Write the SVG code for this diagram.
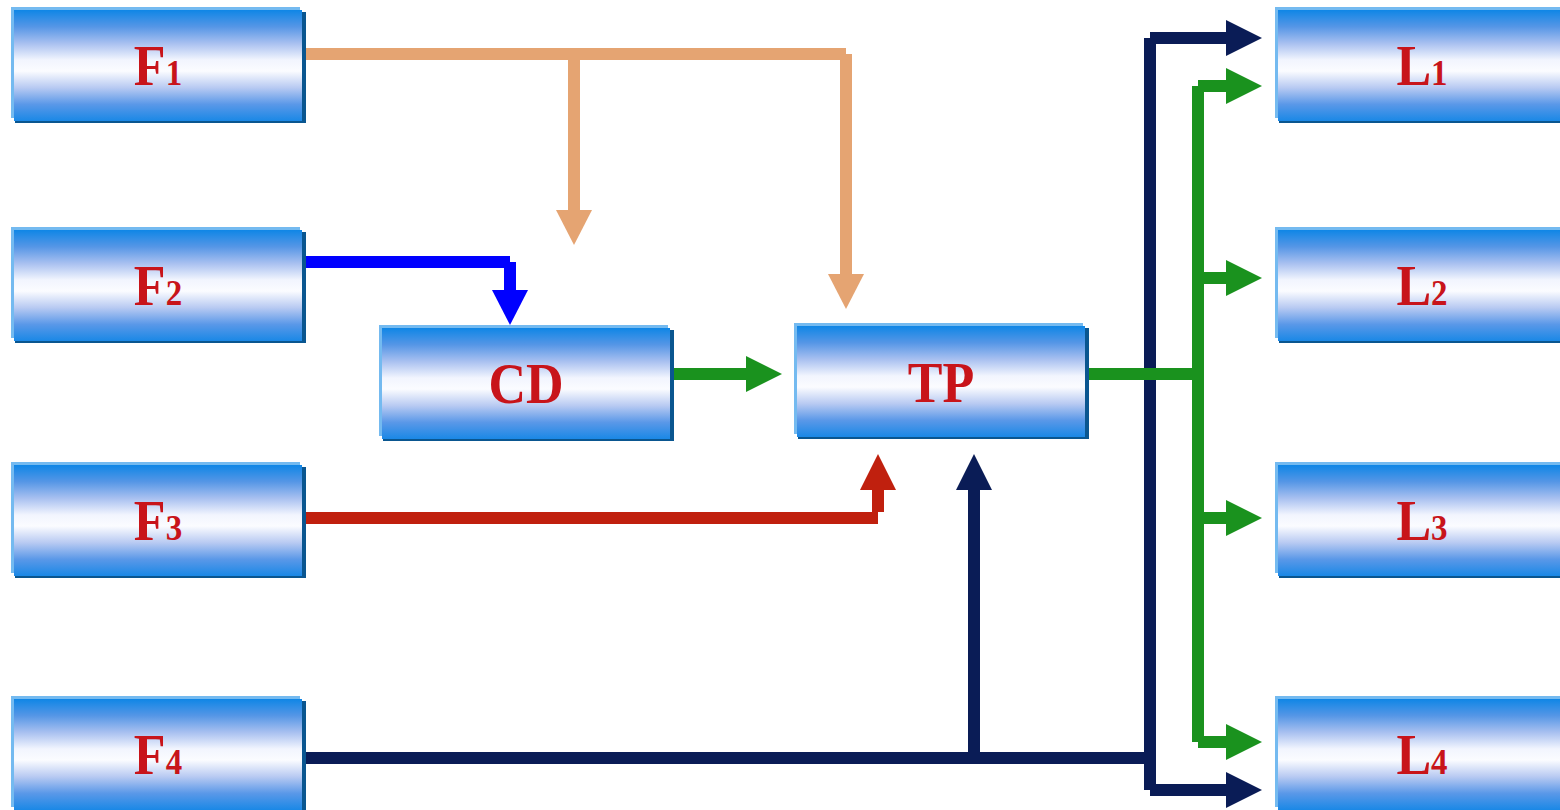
<svg xmlns="http://www.w3.org/2000/svg" xmlns:xlink="http://www.w3.org/1999/xlink" width="1560" height="810" viewBox="0 0 1560 810">
<style>
.sh{fill:#0a5690}
.lt{fill:#74baf0}
.gr{fill:url(#g)}
.lbl{font-family:"Liberation Serif","Times New Roman",serif;font-weight:bold;font-size:52px;fill:#c8141a;text-anchor:middle}
.sub{font-size:33px}
.c{fill:none;stroke-width:12;stroke-linecap:butt}
.pe{stroke:#e5a472}.peF{fill:#e5a472}
.bl{stroke:#0000ff}.blF{fill:#0000ff}
.gn{stroke:#1a921e}.gnF{fill:#1a921e}
.rd{stroke:#c0200e}.rdF{fill:#c0200e}
.nv{stroke:#0a1c56}.nvF{fill:#0a1c56}
</style>
<defs>
<linearGradient id="g" x1="0" y1="0" x2="0" y2="1">
<stop offset="0" stop-color="#0f86e6"/>
<stop offset="0.15" stop-color="#5596e6"/>
<stop offset="0.3" stop-color="#a8c0f0"/>
<stop offset="0.45" stop-color="#f2f5fe"/>
<stop offset="0.55" stop-color="#fbfcff"/>
<stop offset="0.7" stop-color="#b8caf2"/>
<stop offset="0.85" stop-color="#5a98e8"/>
<stop offset="1" stop-color="#1a88e6"/>
</linearGradient>
<g id="box">
<rect class="sh" x="4" y="5" width="291" height="111"/>
<rect class="lt" x="0" y="0" width="289" height="111"/>
<rect class="gr" x="3" y="3" width="288" height="111"/>
</g>
</defs>
<rect width="1560" height="810" fill="#ffffff"/>
<g id="connectors">
<!-- F1 peach -->
<line class="c pe" x1="302" y1="54" x2="846" y2="54"/>
<line class="c pe" x1="846" y1="54" x2="846" y2="275"/>
<polygon class="peF" points="828,274 864,274 846,309"/>
<line class="c pe" x1="574" y1="54" x2="574" y2="211"/>
<polygon class="peF" points="556,210 592,210 574,245"/>
<!-- F2 blue -->
<line class="c bl" x1="302" y1="262" x2="510" y2="262"/>
<line class="c bl" x1="510" y1="262" x2="510" y2="291"/>
<polygon class="blF" points="492,290 528,290 510,325"/>
<!-- CD -> TP green -->
<line class="c gn" x1="670" y1="374" x2="747" y2="374"/>
<polygon class="gnF" points="746,356 782,374 746,392"/>
<!-- F3 red -->
<line class="c rd" x1="302" y1="518" x2="878" y2="518"/>
<line class="c rd" x1="878" y1="512" x2="878" y2="489"/>
<polygon class="rdF" points="860,490 896,490 878,454"/>
<!-- F4 navy -->
<line class="c nv" x1="302" y1="758" x2="1150" y2="758"/>
<line class="c nv" x1="974" y1="752" x2="974" y2="489"/>
<polygon class="nvF" points="956,490 992,490 974,454"/>
<line class="c nv" x1="1150" y1="38" x2="1150" y2="790"/>
<line class="c nv" x1="1150" y1="38" x2="1227" y2="38"/>
<polygon class="nvF" points="1226,20 1262,38 1226,56"/>
<line class="c nv" x1="1150" y1="790" x2="1227" y2="790"/>
<polygon class="nvF" points="1226,772 1262,790 1226,808"/>
<!-- TP green out -->
<line class="c gn" x1="1086" y1="374" x2="1198" y2="374"/>
<line class="c gn" x1="1198" y1="86" x2="1198" y2="742"/>
<line class="c gn" x1="1198" y1="86" x2="1227" y2="86"/>
<polygon class="gnF" points="1226,68 1262,86 1226,104"/>
<line class="c gn" x1="1198" y1="278" x2="1227" y2="278"/>
<polygon class="gnF" points="1226,260 1262,278 1226,296"/>
<line class="c gn" x1="1198" y1="518" x2="1227" y2="518"/>
<polygon class="gnF" points="1226,500 1262,518 1226,536"/>
<line class="c gn" x1="1198" y1="742" x2="1227" y2="742"/>
<polygon class="gnF" points="1226,724 1262,742 1226,760"/>
</g>
<g id="F1"><use xlink:href="#box" x="11" y="7"/><text class="lbl" transform="translate(158,85) scale(1,1.08)">F<tspan class="sub">1</tspan></text></g>
<g id="F2"><use xlink:href="#box" x="11" y="227"/><text class="lbl" transform="translate(158,305) scale(1,1.08)">F<tspan class="sub">2</tspan></text></g>
<g id="F3"><use xlink:href="#box" x="11" y="462"/><text class="lbl" transform="translate(158,540) scale(1,1.08)">F<tspan class="sub">3</tspan></text></g>
<g id="F4"><use xlink:href="#box" x="11" y="696"/><text class="lbl" transform="translate(158,774) scale(1,1.08)">F<tspan class="sub">4</tspan></text></g>
<g id="CD"><use xlink:href="#box" x="379" y="325"/><text class="lbl" transform="translate(526,403) scale(1,1.08)">CD</text></g>
<g id="TP"><use xlink:href="#box" x="794" y="323"/><text class="lbl" transform="translate(941,402) scale(1,1.08)">TP</text></g>
<g id="L1"><use xlink:href="#box" x="1275" y="7"/><text class="lbl" transform="translate(1422,85) scale(1,1.08)">L<tspan class="sub">1</tspan></text></g>
<g id="L2"><use xlink:href="#box" x="1275" y="227"/><text class="lbl" transform="translate(1422,305) scale(1,1.08)">L<tspan class="sub">2</tspan></text></g>
<g id="L3"><use xlink:href="#box" x="1275" y="462"/><text class="lbl" transform="translate(1422,540) scale(1,1.08)">L<tspan class="sub">3</tspan></text></g>
<g id="L4"><use xlink:href="#box" x="1275" y="696"/><text class="lbl" transform="translate(1422,774) scale(1,1.08)">L<tspan class="sub">4</tspan></text></g>
</svg>
